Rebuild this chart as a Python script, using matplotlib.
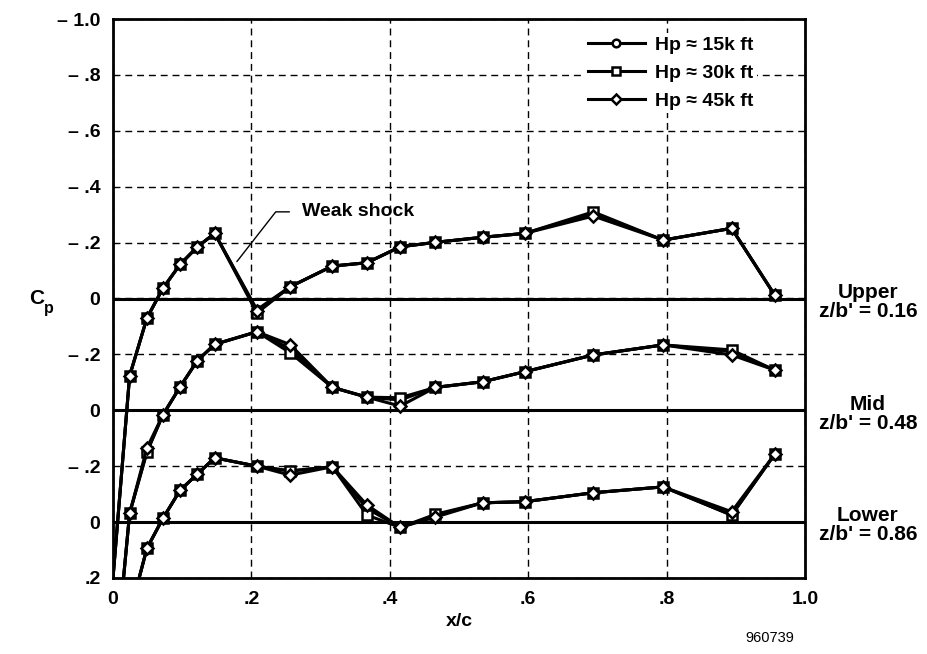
import numpy as np
import matplotlib.pyplot as plt

plt.rcParams['font.family'] = ['Liberation Sans', 'DejaVu Sans']
plt.rcParams['font.weight'] = 'bold'

# chordwise stations x/c
xc = [0.0, 0.024, 0.049, 0.072, 0.097, 0.122, 0.147, 0.208, 0.256, 0.317,
      0.367, 0.415, 0.466, 0.534, 0.595, 0.694, 0.795, 0.894, 0.956]

# upper station, z/b' = 0.16
upper_15k = [1.0, 0.277, 0.07, -0.036, -0.122, -0.185, -0.233, 0.04, -0.042, -0.116,
             -0.128, -0.185, -0.201, -0.219, -0.233, -0.305, -0.209, -0.251, -0.013]
upper_30k = [1.0, 0.277, 0.07, -0.036, -0.122, -0.185, -0.233, 0.052, -0.042, -0.116,
             -0.128, -0.185, -0.201, -0.219, -0.233, -0.31, -0.209, -0.251, -0.013]
upper_45k = [1.0, 0.277, 0.07, -0.036, -0.122, -0.185, -0.233, 0.045, -0.042, -0.116,
             -0.128, -0.185, -0.201, -0.219, -0.233, -0.295, -0.209, -0.251, -0.013]

# mid station, z/b' = 0.48
mid_15k = [1.0, 0.369, 0.148, 0.017, -0.084, -0.178, -0.236, -0.281, -0.22, -0.082,
           -0.047, -0.037, -0.082, -0.102, -0.138, -0.198, -0.234, -0.21, -0.144]
mid_30k = [1.0, 0.369, 0.15, 0.017, -0.084, -0.178, -0.236, -0.281, -0.206, -0.082,
           -0.047, -0.045, -0.082, -0.102, -0.138, -0.198, -0.234, -0.216, -0.144]
mid_45k = [1.0, 0.369, 0.135, 0.017, -0.084, -0.178, -0.236, -0.281, -0.235, -0.082,
           -0.047, -0.015, -0.082, -0.102, -0.138, -0.198, -0.234, -0.198, -0.144]

# lower station, z/b' = 0.86
lower_15k = [1.0, 0.33, 0.094, -0.013, -0.114, -0.172, -0.23, -0.2, -0.183, -0.198,
             -0.049, 0.019, -0.023, -0.069, -0.073, -0.105, -0.126, -0.025, -0.242]
lower_30k = [1.0, 0.33, 0.094, -0.013, -0.114, -0.172, -0.23, -0.2, -0.183, -0.198,
             -0.025, 0.019, -0.028, -0.069, -0.073, -0.105, -0.126, -0.025, -0.242]
lower_45k = [1.0, 0.33, 0.094, -0.013, -0.114, -0.172, -0.23, -0.2, -0.168, -0.198,
             -0.061, 0.019, -0.018, -0.069, -0.073, -0.105, -0.126, -0.037, -0.242]

altitudes = ["Hp \u2248 15k ft", "Hp \u2248 30k ft", "Hp \u2248 45k ft"]
markers = ['o', 's', 'D']
sections = [("Upper", "0.16", 0.0, [upper_15k, upper_30k, upper_45k]),
            ("Mid", "0.48", 0.4, [mid_15k, mid_30k, mid_45k]),
            ("Lower", "0.86", 0.8, [lower_15k, lower_30k, lower_45k])]

yticks = np.arange(-1.0, 1.01, 0.2)
ylabels = ["\u2013 1.0", "\u2013 .8", "\u2013 .6", "\u2013 .4", "\u2013 .2", "0",
           "\u2013 .2", "0", "\u2013 .2", "0", ".2"]
xticks = [0, 0.2, 0.4, 0.6, 0.8, 1.0]
xlabels = ["0", ".2", ".4", ".6", ".8", "1.0"]

fig = plt.figure(figsize=(9.28, 6.54), dpi=100)
ax = fig.add_axes([113/928, 76/654, 692/928, 559/654])

# each section is shifted down by its offset so the three share one axis
for name, zb, off, curves in sections:
    for cp, m, lab in zip(curves, markers, altitudes):
        ax.plot(xc, np.array(cp) + off, color='black', lw=2.2, marker=m,
                ms=6.5 if m != 'D' else 6, mfc='white', mec='black', mew=1.8,
                markevery=slice(1, None), label=lab if off == 0 else None,
                zorder=3)
    ax.axhline(off, color='black', lw=2.2, zorder=2)
    ax.text(1.091, off + 0.012, name + "\nz/b' = " + zb, transform=ax.get_yaxis_transform(),
            ha='center', va='center', fontsize=15, fontweight='bold', linespacing=1.0)

ax.set_xlim(0, 1.0)
ax.set_ylim(1.0, -1.0)
ax.set_xticks(xticks)
ax.set_xticklabels(xlabels)
ax.set_yticks(yticks)
ax.set_yticklabels(ylabels)
ax.tick_params(length=0, labelsize=14, pad=9)
for t in ax.get_xticklabels() + ax.get_yticklabels():
    t.set_fontweight('bold')
ax.grid(True, color='black', ls=(0, (5, 3.5)), lw=1.0, zorder=1)
for s in ax.spines.values():
    s.set_linewidth(2.0)

ax.set_xlabel("x/c", fontsize=14, fontweight='bold', labelpad=4)
fig.text(29/928, 1 - 298/654, "C", fontsize=15, fontweight='bold', ha='left', va='center')
fig.text(44/928, 1 - 309/654, "p", fontsize=11.5, fontweight='bold', ha='left', va='center')

ax.annotate("Weak shock", xy=(0.179, -0.132), xytext=(0.273, -0.31),
            fontsize=14, fontweight='bold', va='center', ha='left',
            arrowprops=dict(arrowstyle='-', color='black', lw=1.0, relpos=(0, 0.5),
                            shrinkA=7, shrinkB=0,
                            connectionstyle="angle,angleA=0,angleB=52,rad=0"))

leg = ax.legend(loc='upper right', frameon=True, fancybox=False, facecolor='white',
                edgecolor='none', framealpha=1.0, fontsize=14, handlelength=2.9,
                handletextpad=0.55, labelspacing=0.55, borderpad=0.15, borderaxespad=0,
                bbox_to_anchor=(0.93, 0.975))
leg.set_zorder(4)
for t in leg.get_texts():
    t.set_fontweight('bold')
for h in leg.legend_handles:
    h.set_markersize(5.5)

fig.text(770/928, 1 - 638/654, "960739", fontsize=10.5, fontweight='normal', ha='center', va='center')

fig.savefig("out.png", dpi=100)
